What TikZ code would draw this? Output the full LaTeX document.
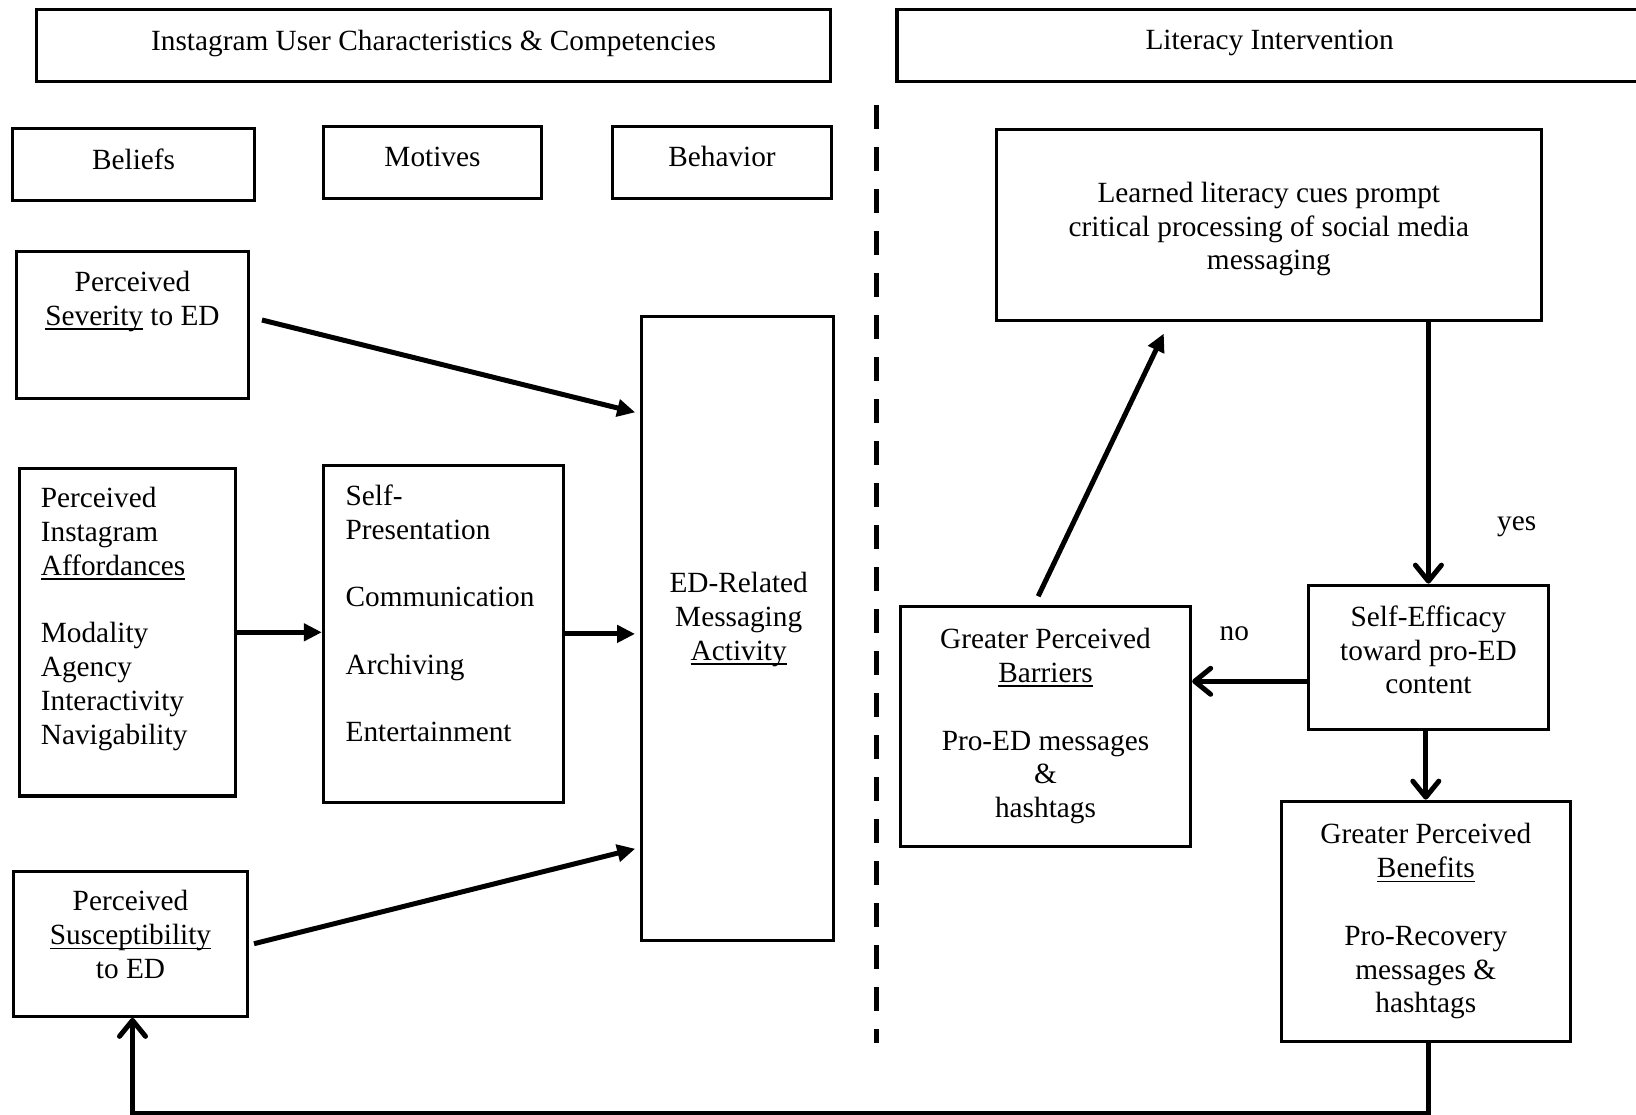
\documentclass[tikz,border=0pt]{standalone}
\usepackage{fontspec}
\setmainfont{Liberation Serif}
\usetikzlibrary{arrows.meta,calc}

\newlength{\du}
\setlength{\du}{1pt}
% word underlined at a fixed depth
\newcommand{\uword}[1]{\leavevmode\setbox0\hbox{#1}\rlap{\rule[-4.5\du]{\wd0}{1.6\du}}\box0{}}

\begin{document}
\begin{tikzpicture}[
  box/.style={draw=dialinecolor, line width=3.3\du, inner sep=0pt, align=center},
  head/.style={box, text depth=11pt},
  txt/.style={inner sep=0pt, align=center},
  fatarrow/.style={draw=dialinecolor, line width=5\du, -{Triangle[length=18pt,width=17pt]}},
  barbarrow/.style={draw=dialinecolor, line width=5\du, -{Straight Barb[length=16pt,width=26pt,round]}},
  gap/.style={shorten >=5pt},
  font=\fontsize{29.3}{33.8}\selectfont]
\pgftransformxscale{1.000000}
\pgftransformyscale{-1.000000}
\definecolor{dialinecolor}{rgb}{0.000000, 0.000000, 0.000000}
\useasboundingbox (0\du,0\du) rectangle (1636\du,1115\du);
% headings
\node[head, minimum width=794\du, minimum height=72\du] (userhead) at (433.5\du,45.4\du) {Instagram User Characteristics \& Competencies};
\node[head, minimum width=745\du, minimum height=72\du] (interhead) at (1269.6\du,45.4\du) {Literacy Intervention};
\node[head, minimum width=242\du, minimum height=72\du] (beliefs) at (133.6\du,164.3\du) {Beliefs};
\node[head, minimum width=218\du, minimum height=72\du] (motives) at (432.5\du,162.2\du) {Motives};
\node[head, minimum width=219\du, minimum height=72\du] (behavior) at (722\du,162.2\du) {Behavior};
% beliefs, motives, behavior
\node[box, minimum width=231.6\du, minimum height=147\du] (severity) at (132.5\du,325\du) {};
\node[txt] (severitytext) at (132.5\du,301.5\du) {Perceived\\\uword{Severity} to ED};
\node[box, minimum width=216\du, minimum height=327.6\du] (afford) at (127.8\du,632.3\du) {};
\node[txt, align=left, anchor=west] (affordtext) at (40.7\du,618.7\du) {Perceived\\Instagram\\\uword{Affordances}\\[33.8\du]Modality\\Agency\\Interactivity\\Navigability};
\node[box, minimum width=240\du, minimum height=337\du] (uses) at (443.5\du,633.9\du) {};
\node[txt, align=left, anchor=west] (usestext) at (345.4\du,613.5\du) {Self-\\Presentation\\[33.8\du]Communication\\[33.8\du]Archiving\\[33.8\du]Entertainment};
\node[box, minimum width=233.7\du, minimum height=145\du] (suscept) at (130.5\du,943.7\du) {};
\node[txt] (suscepttext) at (130.5\du,934.6\du) {Perceived\\\uword{Susceptibility}\\to ED};
\node[box, minimum width=192\du, minimum height=624\du] (activity) at (737.7\du,628.2\du) {};
\node[txt] (activitytext) at (738.7\du,619.7\du) {ED-Related\\Messaging\\\uword{Activity}};
% intervention
\node[box, minimum width=544.7\du, minimum height=191\du] (cues) at (1268.8\du,224.9\du) {};
\node[txt] (cuestext) at (1268.8\du,229\du) {Learned literacy cues prompt\\critical processing of social media\\messaging};
\node[box, minimum width=240\du, minimum height=144\du] (efficacy) at (1428.4\du,657.3\du) {};
\node[txt] (efficacytext) at (1428.4\du,650\du) {Self-Efficacy\\toward pro-ED\\content};
\node[box, minimum width=290\du, minimum height=240\du] (barriers) at (1045.5\du,726.2\du) {Greater Perceived\\\uword{Barriers}\\[33.8\du]Pro-ED messages\\\&\\hashtags};
\node[box, minimum width=289\du, minimum height=240\du] (benefits) at (1425.8\du,921.3\du) {Greater Perceived\\\uword{Benefits}\\[33.8\du]Pro-Recovery\\messages \&\\hashtags};
\node[txt] (yes) at (1516.7\du,526.9\du) {yes};
\node[txt] (no) at (1234.3\du,633.3\du) {no};
% divider
\draw[dialinecolor, line width=5\du, dash pattern=on 24pt off 18pt] (876.5\du,105\du) -- (876.5\du,1043\du);
% arrows, left side
\draw[fatarrow, gap] ($(severity.east)+(12\du,-5\du)$) -- ($(activity.north west)+(0,99\du)$);
\draw[fatarrow] (afford.east) -- (afford.east -| uses.west);
\draw[fatarrow, gap] (uses.east) -- (uses.east -| activity.west);
\draw[fatarrow, gap] ($(suscept.east)+(5\du,0)$) -- ($(activity.north west)+(0,533\du)$);
% arrows, right side
\coordinate (noexit) at ($(efficacy.west)+(0,24\du)$);
\coordinate (barrtop) at ($(barriers.north)+(-7.3\du,-8.3\du)$);
\coordinate (cuesbase) at ($(cues.south west)+(169\du,11.5\du)$);
\coordinate (loopout) at ($(benefits.south)+(2.6\du,0)$);
\coordinate (loopin) at ($(suscept.south)+(2\du,0)$);
\draw[barbarrow] (cues.south -| efficacy.north) -- (efficacy.north);
\draw[barbarrow] (noexit) -- (noexit -| barriers.east);
\draw[barbarrow] (efficacy.south -| benefits.north) -- (benefits.north);
\draw[fatarrow] (barrtop) -- (cuesbase);
\draw[barbarrow] (loopout) -- ++(0,71\du) -| (loopin);
\end{tikzpicture}
\end{document}
